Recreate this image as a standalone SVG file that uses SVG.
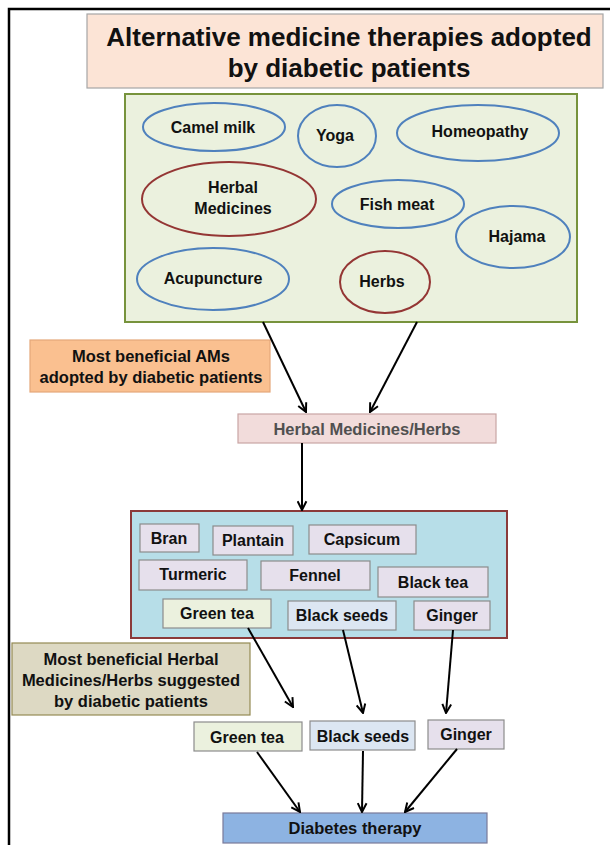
<svg xmlns="http://www.w3.org/2000/svg" width="610" height="845" viewBox="0 0 610 845">
<defs>
<marker id="ah" viewBox="0 0 10 10" refX="9" refY="5" markerWidth="11" markerHeight="11" markerUnits="userSpaceOnUse" orient="auto">
<path d="M1,1 L9,5 L1,9" fill="none" stroke="#000" stroke-width="1.8"/>
</marker>
</defs>
<style>
text{font-family:"Liberation Sans",Arial,sans-serif;font-weight:bold;fill:#111;text-anchor:middle;dominant-baseline:central}
.t{font-size:26px}
.e{font-size:16px}
.b{font-size:16px}
.l{font-size:16.5px}
.ell{fill:none;stroke:#4f81bd;stroke-width:2}
.ellr{fill:none;stroke:#943634;stroke-width:2}
.lav{fill:#e6e0ec;stroke:#8c8c8c;stroke-width:1.2}
.grn{fill:#ebf1de;stroke:#8c8c8c;stroke-width:1.2}
.blu{fill:#dce6f2;stroke:#8c8c8c;stroke-width:1.2}
.c line{stroke:#000;stroke-width:2;marker-end:url(#ah)}
</style>
<rect width="610" height="845" fill="#fff"/>
<path d="M9,845 L9,9 L610,9" fill="none" stroke="#000" stroke-width="2.5"/>

<g id="title">
<rect x="87" y="14" width="516" height="74" fill="#fce4d6" stroke="#a6a6a6" stroke-width="1.2"/>
<text class="t" x="349" y="37">Alternative medicine therapies adopted</text>
<text class="t" x="349" y="68">by diabetic patients</text>
</g>

<g id="am-box">
<rect x="125" y="94" width="452" height="228" fill="#ebf1de" stroke="#77933c" stroke-width="2"/>
</g>
<g id="camel"><ellipse class="ell" cx="214" cy="127" rx="71" ry="24"/><text class="e" x="213" y="127">Camel milk</text></g>
<g id="yoga"><ellipse class="ell" cx="337" cy="136" rx="39" ry="31"/><text class="e" x="335" y="135">Yoga</text></g>
<g id="homeopathy"><ellipse class="ell" cx="478" cy="133" rx="81" ry="28"/><text class="e" x="480" y="131">Homeopathy</text></g>
<g id="herbalmed"><ellipse class="ellr" cx="229" cy="199" rx="87" ry="37"/><text class="e" x="233" y="187">Herbal</text><text class="e" x="233" y="208">Medicines</text></g>
<g id="fish"><ellipse class="ell" cx="398" cy="204" rx="66" ry="24"/><text class="e" x="397" y="204">Fish meat</text></g>
<g id="hajama"><ellipse class="ell" cx="513" cy="237" rx="57" ry="31"/><text class="e" x="517" y="236">Hajama</text></g>
<g id="acupuncture"><ellipse class="ell" cx="213" cy="279" rx="76" ry="31"/><text class="e" x="213" y="278">Acupuncture</text></g>
<g id="herbs"><ellipse class="ellr" cx="385" cy="282" rx="45" ry="31"/><text class="e" x="382" y="281">Herbs</text></g>

<g id="label-am">
<rect x="30" y="340" width="240" height="52" fill="#fac090" stroke="#e4a77a" stroke-width="1.2"/>
<text class="l" x="151" y="356">Most beneficial AMs</text>
<text class="l" x="151" y="377">adopted by diabetic patients</text>
</g>

<g id="hmh">
<rect x="238" y="414" width="258" height="29" fill="#f2dcdb" stroke="#c9a5a4" stroke-width="1.2"/>
<text class="l" x="367" y="429" style="fill:#505050">Herbal Medicines/Herbs</text>
</g>

<g id="herb-box">
<rect x="131" y="511" width="376" height="127" fill="#b7dee8" stroke="#8b3a3a" stroke-width="2"/>
</g>
<g id="bran"><rect class="lav" x="140" y="524" width="59" height="28"/><text class="b" x="169" y="538">Bran</text></g>
<g id="plantain"><rect class="lav" x="213" y="526" width="80" height="29"/><text class="b" x="253" y="540">Plantain</text></g>
<g id="capsicum"><rect class="lav" x="309" y="525" width="107" height="29"/><text class="b" x="362" y="539">Capsicum</text></g>
<g id="turmeric"><rect class="lav" x="139" y="560" width="108" height="30"/><text class="b" x="193" y="574">Turmeric</text></g>
<g id="fennel"><rect class="lav" x="261" y="561" width="109" height="29"/><text class="b" x="315" y="575">Fennel</text></g>
<g id="blacktea"><rect class="lav" x="378" y="567" width="110" height="30"/><text class="b" x="433" y="582">Black tea</text></g>
<g id="greentea1"><rect class="grn" x="163" y="599" width="108" height="29"/><text class="b" x="217" y="613">Green tea</text></g>
<g id="blackseeds1"><rect class="blu" x="288" y="601" width="108" height="29"/><text class="b" x="342" y="615">Black seeds</text></g>
<g id="ginger1"><rect class="lav" x="414" y="601" width="76" height="29"/><text class="b" x="452" y="615">Ginger</text></g>

<g id="label-herbs">
<rect x="12" y="643" width="238" height="72" fill="#ddd9c3" stroke="#948a54" stroke-width="1.2"/>
<text class="l" x="131" y="659">Most beneficial Herbal</text>
<text class="l" x="131" y="680">Medicines/Herbs suggested</text>
<text class="l" x="131" y="701">by diabetic patients</text>
</g>

<g id="greentea2"><rect class="grn" x="194" y="722" width="108" height="29"/><text class="b" x="247" y="737">Green tea</text></g>
<g id="blackseeds2"><rect class="blu" x="310" y="721" width="105" height="29"/><text class="b" x="363" y="736">Black seeds</text></g>
<g id="ginger2"><rect class="lav" x="428" y="720" width="76" height="29"/><text class="b" x="466" y="734">Ginger</text></g>

<g id="diabetes">
<rect x="223" y="813" width="264" height="30" fill="#8db3e2" stroke="#7a7a9a" stroke-width="1.2"/>
<text class="l" x="355" y="828">Diabetes therapy</text>
</g>

<g id="connectors" class="c">
<line x1="263" y1="322" x2="306" y2="412"/>
<line x1="417" y1="322" x2="370" y2="412"/>
<line x1="302" y1="443" x2="302" y2="510"/>
<line x1="248" y1="628" x2="293" y2="707"/>
<line x1="343" y1="630" x2="363" y2="713"/>
<line x1="453" y1="630" x2="446" y2="713"/>
<line x1="257" y1="752" x2="300" y2="812"/>
<line x1="363" y1="751" x2="362" y2="812"/>
<line x1="457" y1="749" x2="405" y2="812"/>
</g>
</svg>
